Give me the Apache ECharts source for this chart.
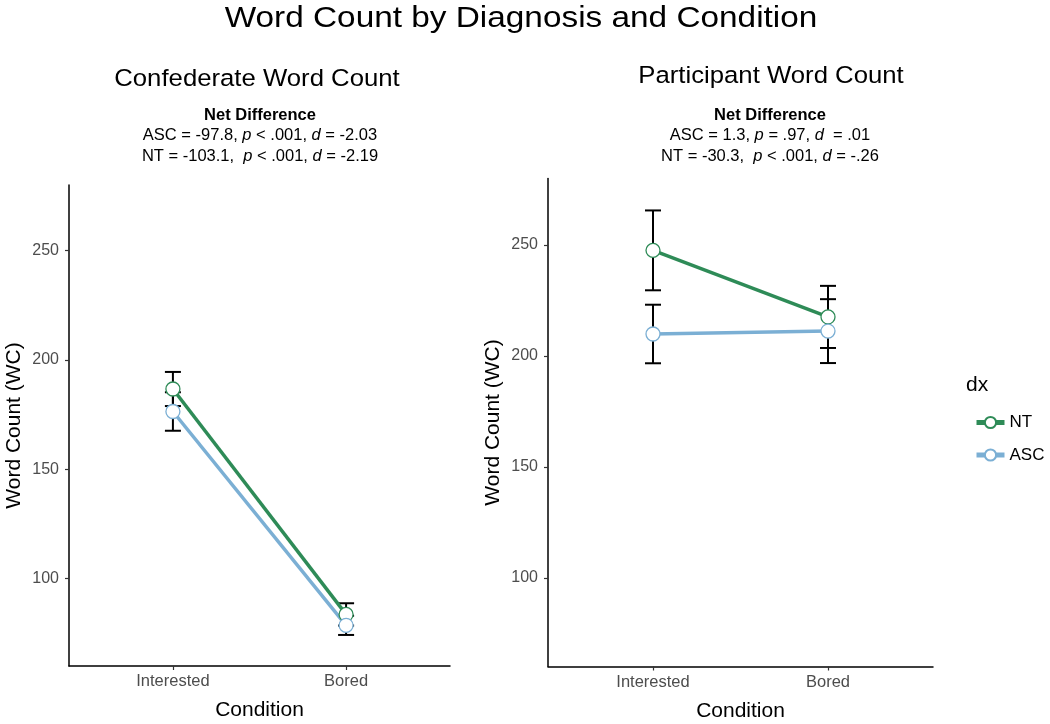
<!DOCTYPE html>
<html><head><meta charset="utf-8">
<script src="https://cdn.jsdelivr.net/npm/echarts@6/dist/echarts.min.js"></script>
<style>html,body{margin:0;padding:0;background:#fff}#c{width:1050px;height:724px}</style>
</head><body><div id="c"></div>
<script>
const categories = ['Interested', 'Bored'];
const yTicks = [100, 150, 200, 250];
const confNT = [186.7, 83.6];
const confNTerr = [7.8, 5.1];
const confASC = [176.4, 78.6];
const confASCerr = [8.8, 4.4];
const partNT = [247.6, 217.6];
const partNTerr = [18.0, 14.0];
const partASC = [209.9, 211.2];
const partASCerr = [13.2, 14.4];

const GREEN = '#2E8B57', BLUE = '#7BAFD4';
const FONT = 'Liberation Sans, Arial, Helvetica, sans-serif';

function pts(vals){ return categories.map((c,i)=>[i+1, vals[i]]); }
function errs(vals, e){ return categories.map((c,i)=>[i+1, vals[i]-e[i], vals[i]+e[i]]); }

function errSeries(vals, e, gi){
  return {
    type:'custom', xAxisIndex:gi, yAxisIndex:gi, z:1, silent:true,
    data: errs(vals, e),
    renderItem(params, api){
      const lo = api.coord([api.value(0), api.value(1)]);
      const hi = api.coord([api.value(0), api.value(2)]);
      const w = 8;
      const st = {stroke:'#000', lineWidth:2};
      return {type:'group', children:[
        {type:'line', shape:{x1:lo[0],y1:lo[1],x2:hi[0],y2:hi[1]}, style:st},
        {type:'line', shape:{x1:lo[0]-w,y1:lo[1],x2:lo[0]+w,y2:lo[1]}, style:st},
        {type:'line', shape:{x1:hi[0]-w,y1:hi[1],x2:hi[0]+w,y2:hi[1]}, style:st}
      ]};
    }
  };
}
function lineSeries(name, vals, color, gi){
  return {
    type:'line', name, xAxisIndex:gi, yAxisIndex:gi, z:3,
    data: pts(vals), symbol:'circle', symbolSize:14, showAllSymbol:true,
    lineStyle:{color, width:3.5},
    itemStyle:{color:'#fff', borderColor:color, borderWidth:1.3},
    emphasis:{disabled:true}
  };
}
function xAxis(gi){
  return {
    type:'value', gridIndex:gi, min:0.4, max:2.6,
    name:'Condition', nameLocation:'middle', nameGap:34,
    nameTextStyle:{fontSize:21, color:'#000', fontFamily:FONT},
    axisLine:{show:true, lineStyle:{color:'#000', width:1.5}},
    axisTick:{show:true, length:4, customValues:[1,2], lineStyle:{color:'#333', width:1.2}},
    axisLabel:{customValues:[1,2], formatter:v=>categories[Math.round(v)-1], fontSize:16.5, color:'#4d4d4d', margin:7, fontFamily:FONT},
    splitLine:{show:false}
  };
}
function yAxis(gi){
  return {
    type:'value', gridIndex:gi, min:60, max:280,
    name:'Word Count (WC)', nameLocation:'middle', nameGap:44, nameRotate:90,
    nameTextStyle:{fontSize:21, color:'#000', fontFamily:FONT},
    axisLine:{show:true, lineStyle:{color:'#000', width:1.5}},
    axisTick:{show:true, length:4, customValues:yTicks, lineStyle:{color:'#333', width:1.2}},
    axisLabel:{customValues:yTicks, fontSize:16, color:'#4d4d4d', margin:10, fontFamily:FONT},
    splitLine:{show:false}
  };
}

const chart = echarts.init(document.getElementById('c'), null, {renderer:'canvas'});
const rich = {
  b:{fontWeight:'bold', fontSize:16.5, fontFamily:FONT, color:'#000', lineHeight:20.5},
  n:{fontSize:16.5, fontFamily:FONT, color:'#000', lineHeight:20.5},
  i:{fontSize:16.5, fontStyle:'italic', fontFamily:FONT, color:'#000', lineHeight:20.5}
};
chart.setOption({
  animation:false,
  backgroundColor:'#fff',
  grid:[
    {left:69, top:185, width:381, height:481, outerBoundsMode:'none', containLabel:false},
    {left:548, top:178.5, width:385, height:488, outerBoundsMode:'none', containLabel:false}
  ],
  xAxis:[xAxis(0), xAxis(1)],
  yAxis:[yAxis(0), yAxis(1)],
  legend:{
    data:['NT','ASC'], orient:'vertical', left:969, top:409,
    itemWidth:28, itemHeight:14, itemGap:15.5,
    lineStyle:{width:5},
    textStyle:{fontSize:17, color:'#000', fontFamily:FONT}
  },
  graphic:[
    {type:'text', x:521, y:19, scaleX:1.15, style:{text:'Word Count by Diagnosis and Condition', fontSize:29, fontFamily:FONT, fill:'#000', align:'center', verticalAlign:'middle'}},
    {type:'text', x:257, y:79.5, scaleX:1.05, style:{text:'Confederate Word Count', fontSize:24.5, fontFamily:FONT, fill:'#000', align:'center', verticalAlign:'middle'}},
    {type:'text', x:771, y:76, scaleX:1.05, style:{text:'Participant Word Count', fontSize:24.5, fontFamily:FONT, fill:'#000', align:'center', verticalAlign:'middle'}},
    {type:'text', x:260, y:105, style:{align:'center', rich, text:'{b|Net Difference}\n{n|ASC = -97.8, }{i|p}{n| < .001, }{i|d}{n| = -2.03}\n{n|NT = -103.1,  }{i|p}{n| < .001, }{i|d}{n| = -2.19}'}},
    {type:'text', x:770, y:105, style:{align:'center', rich, text:'{b|Net Difference}\n{n|ASC = 1.3, }{i|p}{n| = .97, }{i|d}{n|  = .01}\n{n|NT = -30.3,  }{i|p}{n| < .001, }{i|d}{n| = -.26}'}},
    {type:'text', x:966, y:385, style:{text:'dx', fontSize:21, fontFamily:FONT, fill:'#000', verticalAlign:'middle'}}
  ],
  series:[
    errSeries(confNT, confNTerr, 0), errSeries(confASC, confASCerr, 0),
    errSeries(partNT, partNTerr, 1), errSeries(partASC, partASCerr, 1),
    lineSeries('NT', confNT, GREEN, 0), lineSeries('ASC', confASC, BLUE, 0),
    lineSeries('NT', partNT, GREEN, 1), lineSeries('ASC', partASC, BLUE, 1)
  ]
});
</script></body></html>
